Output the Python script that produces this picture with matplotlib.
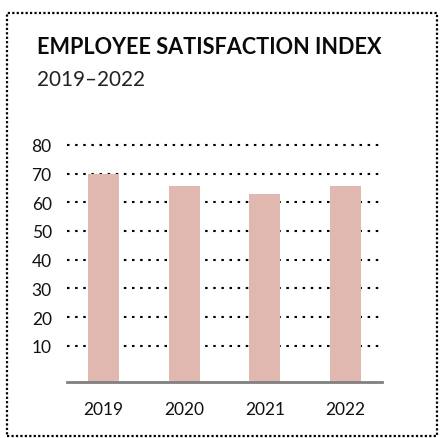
import matplotlib.pyplot as plt
from matplotlib.patches import Rectangle

# employee satisfaction index by year
years = ["2019", "2020", "2021", "2022"]
scores = [70, 65.5, 63, 65.5]
y_ticks = [10, 20, 30, 40, 50, 60, 70, 80]

plt.rcParams['font.family'] = ['Lato', 'DejaVu Sans']

W, H = 441, 439
fig = plt.figure(figsize=(W / 100, H / 100), dpi=100)

# dotted frame around the whole card
frame = Rectangle((7 / W, 1 - 437 / H), 430 / W, 423 / H, transform=fig.transFigure,
                  fill=False, edgecolor="black", linewidth=1.6, linestyle=(0, (1, 1)))
fig.patches.append(frame)

fig.text(37 / W, 1 - 48 / H, "EMPLOYEE SATISFACTION INDEX", fontsize=15.6,
         fontweight="bold", va="center", ha="left", color="#0a0a0a")
fig.text(37 / W, 1 - 80 / H, "2019\u20132022", fontsize=14.9, va="center", ha="left",
         color="#222222")

ax = fig.add_axes([67 / W, 1 - 383 / H, 315 / W, (383 - 132) / H])
y_floor = -2.6
x = range(len(years))
ax.bar(x, [s - y_floor for s in scores], bottom=y_floor, width=0.384,
       color="#e0b8b0", zorder=3)
ax.set_xlim(-0.452, 3.452)
ax.set_ylim(y_floor, 84.8)

for t in y_ticks:
    ax.axhline(t, color="black", linewidth=1.5, linestyle=(0, (1.2, 2.7)), zorder=1)

ax.set_yticks(y_ticks)
ax.set_yticklabels([str(t) for t in y_ticks])
ax.set_xticks(list(x))
ax.set_xticklabels(years)
ax.tick_params(axis="both", length=0, labelsize=12.5, colors="#111111")
ax.tick_params(axis="y", pad=11)
ax.tick_params(axis="x", pad=14)

for side in ["top", "right", "left"]:
    ax.spines[side].set_visible(False)
ax.spines["bottom"].set_color("#808080")
ax.spines["bottom"].set_linewidth(2)
ax.spines["bottom"].set_zorder(4)

fig.savefig("out.png", dpi=100)
